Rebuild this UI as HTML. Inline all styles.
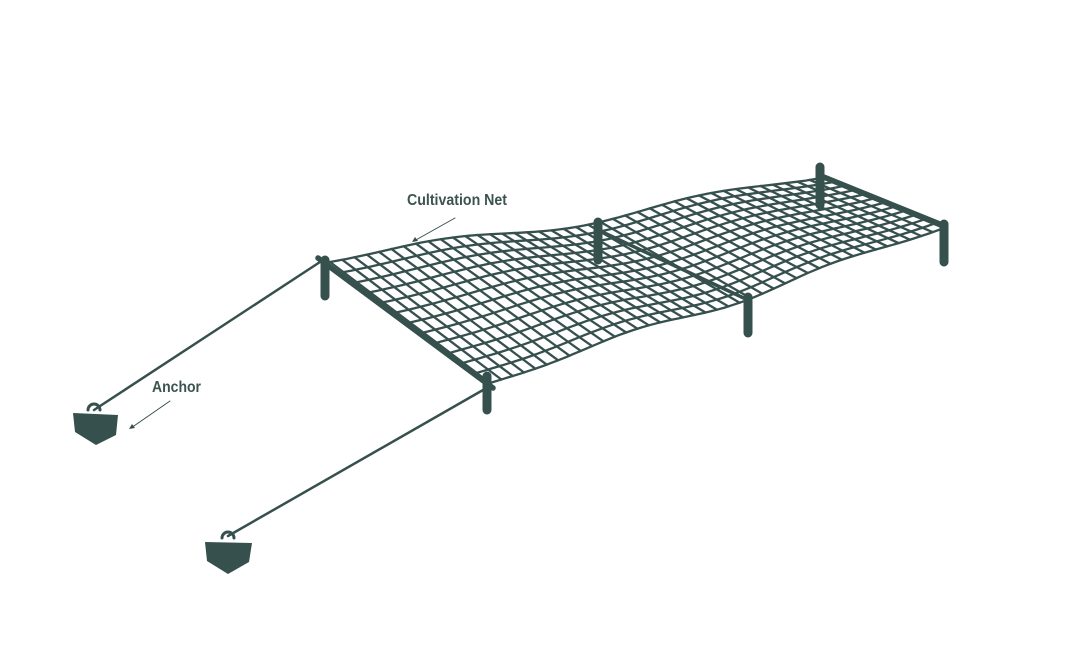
<!DOCTYPE html>
<html><head><meta charset="utf-8"><style>
html,body{margin:0;padding:0;background:#fff;width:1070px;height:648px;overflow:hidden}
svg{display:block}
text{font-family:"Liberation Sans",sans-serif;font-weight:bold;fill:#3c5450}
</style></head><body>
<svg id="s" width="1070" height="648" viewBox="0 0 1070 648" xmlns="http://www.w3.org/2000/svg">
<g stroke="#36504d" stroke-linecap="round" fill="none">
<line x1="320" y1="262" x2="94" y2="410" stroke-width="2.5"/>
<line x1="490" y1="386" x2="228" y2="536" stroke-width="2.5"/>
<g id="net" stroke-width="2.3"></g>
<line x1="598" y1="230" x2="748" y2="300" stroke-width="3.5"/>
<line x1="820" y1="175" x2="946" y2="226" stroke-width="4.5"/>
<line x1="318" y1="258" x2="493" y2="388" stroke-width="5.5"/>
<g stroke-width="9">
<line x1="325" y1="260" x2="325" y2="296"/>
<line x1="487" y1="376" x2="487" y2="410"/>
<line x1="598" y1="222" x2="598" y2="260"/>
<line x1="748" y1="297" x2="748" y2="333"/>
<line x1="820" y1="167" x2="820" y2="205"/>
<line x1="944" y1="224" x2="944" y2="262"/>
</g>
<path d="M88 410 a6 6 0 0 1 12 0" stroke-width="3"/>
<path d="M222 538 a6 6 0 0 1 12 0" stroke-width="3"/>
<line x1="455" y1="218" x2="414" y2="241" stroke-width="1"/>
<line x1="170" y1="401" x2="131" y2="428" stroke-width="1"/>
</g>
<g fill="#36504d">
<path d="M73 413 L118 415 L116 435 L96 445 L75 432 Z"/>
<path d="M205 542 L252 543 L249 562 L228 574 L207 561 Z"/>
<path d="M412 242 l6 -1 l-3 -4 z"/>
<path d="M129 429 l6 -1 l-3 -4 z"/>
</g>
<text x="407" y="205" font-size="16" textLength="100" lengthAdjust="spacingAndGlyphs">Cultivation Net</text>
<text x="152" y="392" font-size="16" textLength="49" lengthAdjust="spacingAndGlyphs">Anchor</text>
</svg>
<script>
var A=[330,262],B=[490,383],C=[944,228],D=[822,178];
function P(u,v){
 var x=(1-u)*(1-v)*A[0]+u*(1-v)*D[0]+u*v*C[0]+(1-u)*v*B[0];
 var y=(1-u)*(1-v)*A[1]+u*(1-v)*D[1]+u*v*C[1]+(1-u)*v*B[1];
 var s=Math.sin(u*Math.PI);
 y+= -7*Math.sin(u*Math.PI*3)*s*(1-v) + 5*Math.sin(u*Math.PI*4+1)*s*v;
 return x.toFixed(1)+","+y.toFixed(1);
}
var g=document.getElementById("net"),h="",NU=40,NV=12,i,j,d;
for(j=0;j<=NV;j++){d="M";for(i=0;i<=60;i++){d+=(i?" L":"")+P(i/60,j/NV);}h+='<path d="'+d+'"/>';}
for(i=0;i<=NU;i++){d="M";for(j=0;j<=10;j++){d+=(j?" L":"")+P(i/NU,j/10);}h+='<path d="'+d+'"/>';}
g.innerHTML=h;
</script>
</body></html>
